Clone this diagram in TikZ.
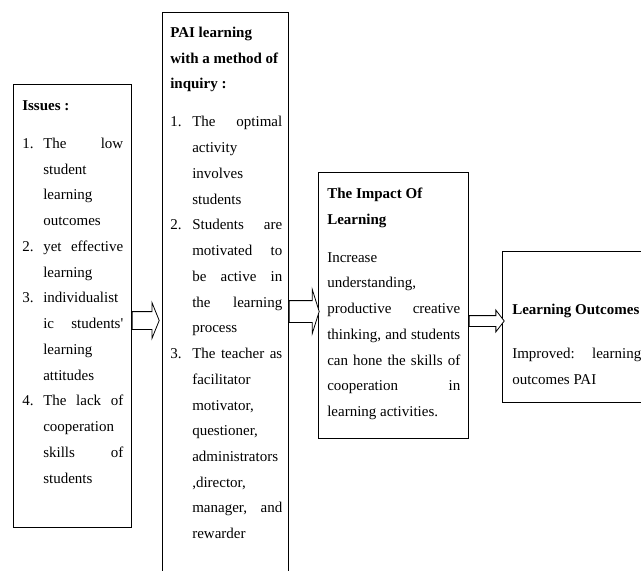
\documentclass[tikz,border=0pt]{standalone}
\usepackage{fontspec}
\setmainfont{Liberation Serif}
\usetikzlibrary{shapes.arrows}
\newcommand\jl[1]{\makebox[\hsize][s]{#1}}

\begin{document}
\begin{tikzpicture}[x=0.75pt, y=-0.75pt,
  box/.style = {draw, line width=0.6pt, anchor=north west, inner sep=0pt},
  txt/.style = {anchor=base west, inner sep=0pt, font=\fontsize{11.25}{19.3}\selectfont},
  barrow/.style = {draw, fill=white, line width=0.6pt, single arrow, single arrow head indent=0pt, anchor=tail, inner xsep=0pt}]
\useasboundingbox (0,0) rectangle (641,570);
\clip (0,0) rectangle (641,570);

\node[box, minimum width=88.5pt, minimum height=332.25pt] (issues) at (13,84) {};
\node[box, minimum width=94.5pt, minimum height=450pt] (pai) at (162,12) {};
\node[box, minimum width=112.5pt, minimum height=199.5pt] (impact) at (318,172) {};
\node[box, minimum width=120pt, minimum height=113.25pt] (outcomes) at (502,251) {};

\node[txt] (issuestext) at (22,110.5) {\begin{tabular}[t]{@{}p{15.75pt}@{}p{60pt}@{}}
\multicolumn{2}{@{}l@{}}{\textbf{Issues :}}\\[9.2pt]
1. & \jl{The low}\\
   & student\\
   & learning\\
   & outcomes\\
2. & \jl{yet effective}\\
   & learning\\
3. & individualist\\
   & \jl{ic students\textquotesingle}\\
   & learning\\
   & attitudes\\
4. & \jl{The lack of}\\
   & cooperation\\
   & \jl{skills of}\\
   & students
\end{tabular}};

\node[txt] (paitext) at (170,37.5) {\begin{tabular}[t]{@{}p{16.5pt}@{}p{67.5pt}@{}}
\multicolumn{2}{@{}l@{}}{\textbf{PAI learning}}\\
\multicolumn{2}{@{}l@{}}{\textbf{with a method of}}\\
\multicolumn{2}{@{}l@{}}{\textbf{inquiry :}}\\[9.2pt]
1. & \jl{The optimal}\\
   & activity\\
   & involves\\
   & students\\
2. & \jl{Students are}\\
   & \jl{motivated to}\\
   & \jl{be active in}\\
   & \jl{the learning}\\
   & process\\
3. & \jl{The teacher as}\\
   & facilitator\\
   & motivator,\\
   & questioner,\\
   & administrators\\
   & ,director,\\
   & \jl{manager, and}\\
   & rewarder
\end{tabular}};

\node[txt] (impacttext) at (327,198.5) {\begin{tabular}[t]{@{}p{99.75pt}@{}}
\textbf{The Impact Of}\\
\textbf{Learning}\\[9.2pt]
Increase\\
understanding,\\
\jl{productive creative}\\
\jl{thinking, and students}\\
\jl{can hone the skills of}\\
\jl{cooperation in}\\
learning activities.
\end{tabular}};

\node[txt] (outcomestext) at (512,314.5) {\begin{tabular}[t]{@{}p{96.75pt}@{}}
\textbf{Learning Outcomes}\\[13.7pt]
\jl{Improved: learning}\\
outcomes PAI
\end{tabular}};

\node[barrow, minimum height=20.25pt, inner ysep=6.375pt, single arrow head extend=6.75pt, single arrow tip angle=136] (arrow1) at (issues.east |- 0,320.5) {};
\node[barrow, minimum height=22.5pt, inner ysep=7.875pt, single arrow head extend=8.6pt, single arrow tip angle=145] (arrow2) at (pai.east |- 0,311.5) {};
\node[barrow, minimum height=26.25pt, inner ysep=3.75pt, single arrow head extend=4.1pt, single arrow tip angle=105] (arrow3) at (impact.east |- 0,321) {};
\end{tikzpicture}
\end{document}
